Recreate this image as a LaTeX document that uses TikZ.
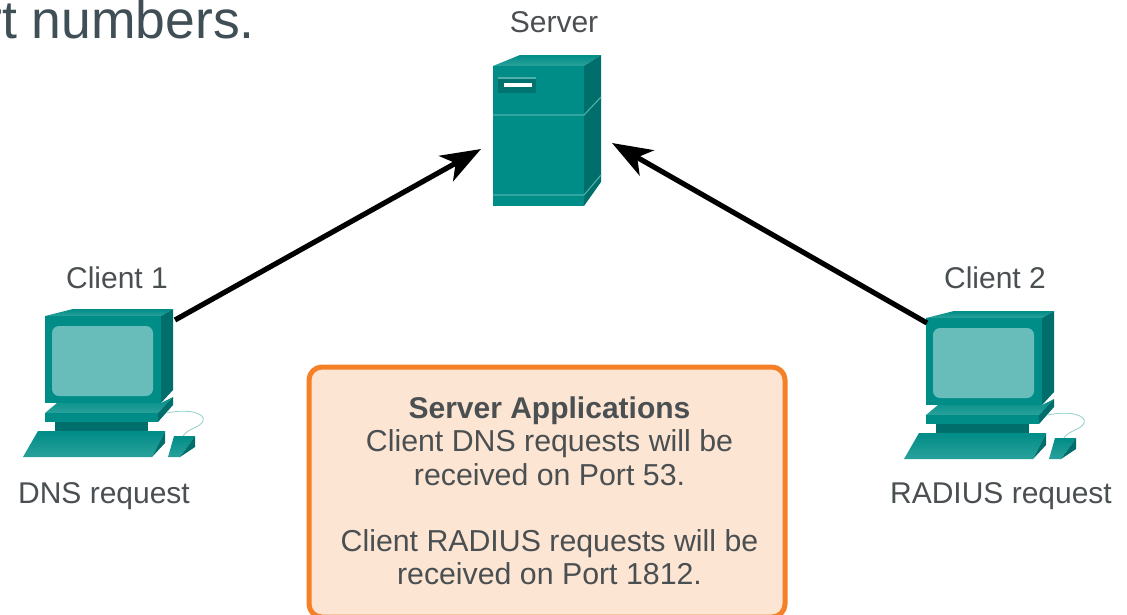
\documentclass[tikz,border=0pt]{standalone}
\usepackage{fontspec}
\setmainfont{Liberation Sans}
\usetikzlibrary{arrows.meta}
\definecolor{tealfront}{HTML}{008C87}
\definecolor{tealside}{HTML}{006F6B}
\definecolor{tealtop}{HTML}{1B9A94}
\definecolor{tealdark}{HTML}{00736F}
\definecolor{tealplate}{HTML}{2AA19B}
\definecolor{tealscreen}{HTML}{68BDBB}
\definecolor{tealline}{HTML}{4DB0AB}
\definecolor{cordcol}{HTML}{8FD0CC}
\definecolor{boxedge}{HTML}{F58027}
\definecolor{boxfill}{HTML}{FDE5D4}
\definecolor{labelcol}{HTML}{4A4F52}
\definecolor{headcol}{HTML}{3F4F55}
\tikzset{
  x=1pt,y=-1pt,
  facefront/.style={fill=tealfront},
  faceside/.style={fill=tealside},
  facetop/.style={top color=tealfront,bottom color=tealplate},
  slab/.style={top color=tealfront,bottom color=tealplate},
  seam/.style={draw=tealline,line width=1.1pt},
  devlabel/.style={font=\fontsize{30}{33}\selectfont,text=labelcol,inner sep=0pt,anchor=base},
  flow/.style={line width=5.2pt,draw=black,-{Stealth[length=40pt,width=29pt,inset=11pt]}},
  infobox/.style={draw=boxedge,fill=boxfill,line width=5pt,rounded corners=13pt,minimum width=476pt,minimum height=250pt,inner sep=0pt},
  infotext/.style={font=\fontsize{30.3}{33.3}\selectfont,text=labelcol,align=center,inner sep=0pt,anchor=north},
}
\newcommand{\clientpc}[2]{%
\begin{scope}[shift={(#1,#2)}]
  \shade[facetop] (45,316)--(73,309)--(173,309)--(161,316)--cycle;
  \fill[faceside] (161,316)--(173,309)--(173,390)--(161,403)--cycle;
  \fill[facefront] (45,316) rectangle (161,403);
  \fill[tealscreen,rounded corners=7pt] (52,326) rectangle (153,396);
  \shade[slab] (57,403)--(161,403)--(173,397)--(158,413)--(45,413)--cycle;
  \fill[tealfront] (45,413) rectangle (158,422);
  \fill[tealside] (158,422)--(158,413)--(173,397)--(173,405)--cycle;
  \fill[tealside] (55,422) rectangle (148,431);
  \shade[slab] (38,431)--(165,431)--(152,457)--(23,457)--cycle;
  \fill[tealside] (152,457)--(165,443)--(165,431)--cycle;
  \draw[cordcol,line width=.8pt] (167,413) .. controls (190,408) and (206,414) .. (203,421) .. controls (200,428) and (188,428) .. (183,436);
  \shade[slab] (174,436)--(195,436)--(180,457)--(168,457)--cycle;
  \fill[tealside] (180,457)--(195,447)--(195,436)--cycle;
\end{scope}}
\begin{document}
\begin{tikzpicture}
  \useasboundingbox (0,0) rectangle (1127,614);
  \clip (0,0) rectangle (1127,614);
  \fill[white] (0,0) rectangle (1127,614);
  % server
  \shade[facetop] (493,66)--(520,55)--(601,55)--(584,66)--cycle;
  \fill[faceside] (584,66)--(601,55)--(601,182)--(584,206)--cycle;
  \fill[facefront] (493,66) rectangle (584,206);
  \draw[seam] (493,115)--(584,115)--(601,97);
  \draw[seam] (493,195)--(584,195)--(601,175);
  \fill[tealdark] (498,77) rectangle (536,93);
  \fill[tealline] (498,77) rectangle (536,79);
  \fill[white] (504,83) rectangle (532,87);
  % clients
  \clientpc{0}{0}
  \clientpc{881}{2}
  % anchors
  \coordinate (serverL) at (481,149);
  \coordinate (serverR) at (612,143);
  \coordinate (clientA) at (175,320);
  \coordinate (clientB) at (927,323);
  \draw[flow] (clientA) -- (serverL);
  \draw[flow] (clientB) -- (serverR);
  % labels
  \node[devlabel] (lserver) at (554,32) {Server};
  \node[devlabel] (lc1) at (117,288) {Client 1};
  \node[devlabel] (lc2) at (995,288) {Client 2};
  \node[devlabel] (ldns) at (104,503) {DNS request};
  \node[devlabel] (lrad) at (1001,503) {RADIUS request};
  \node[anchor=base east,inner sep=0pt,font=\fontsize{53.5}{58}\selectfont,text=headcol] (frag) at (255,38) {rt numbers.};
  % box
  \node[infobox,anchor=north west] (box) at (309.5-3,366.5-2) {};
  \node[infotext] (boxtext) at (549.5,396.5) {{\fontsize{30}{33.3}\selectfont\textbf{Server Applications}}\\Client DNS requests will be\\received on Port 53.\\[33.3pt]Client RADIUS requests will be\\received on Port 1812.};
\end{tikzpicture}
\end{document}
